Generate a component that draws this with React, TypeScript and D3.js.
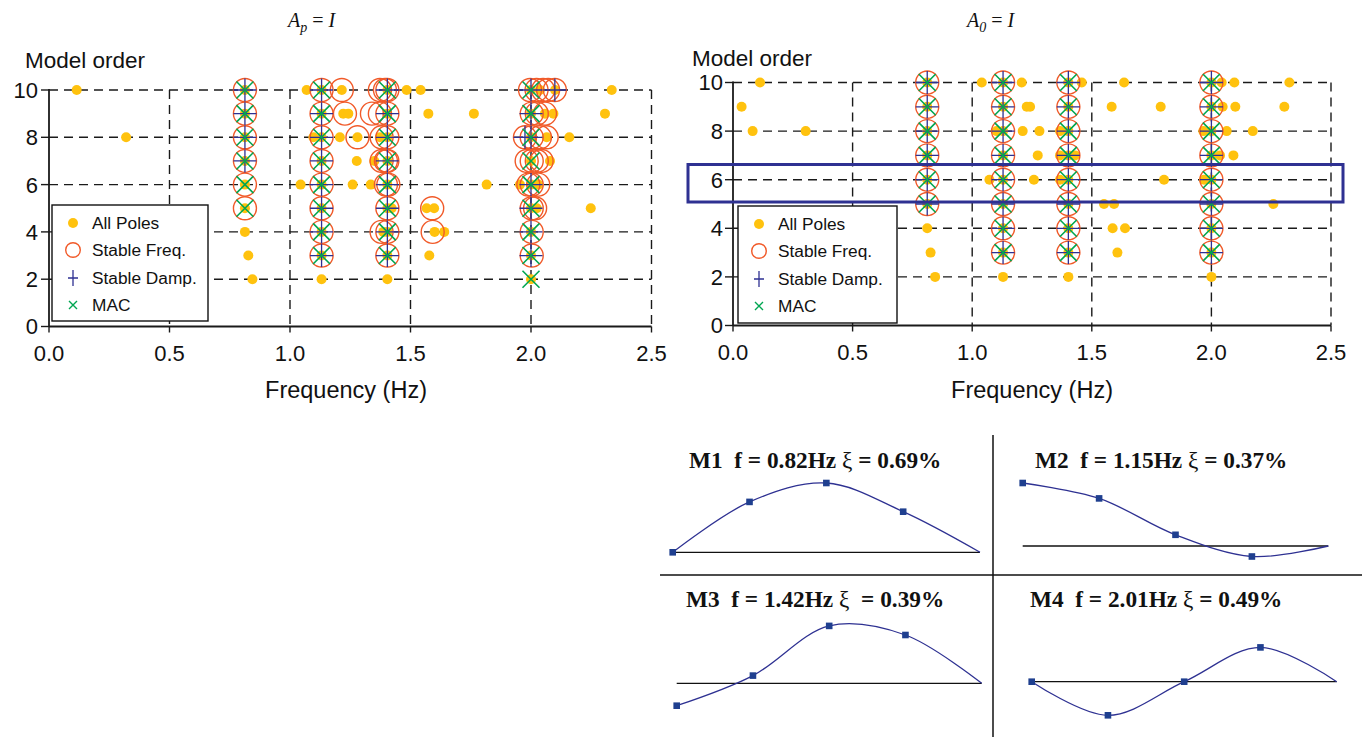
import React from "react";
import * as d3 from "d3";

type P = [number, number]; // [frequency Hz, model order]

const freqTicks = [0, 0.5, 1.0, 1.5, 2.0, 2.5];
const orderTicks = [0, 2, 4, 6, 8, 10];
const legendItems = ["All Poles", "Stable Freq.", "Stable Damp.", "MAC"];

// ---------- Left chart: A_p = I ----------
const allPolesAp: P[] = [
  [0.115, 10], [0.813, 10], [1.069, 10], [1.131, 10], [1.215, 10], [1.404, 10], [1.484, 10], [1.542, 10], [2.0, 10], [2.037, 10], [2.1, 10], [2.335, 10],
  [0.813, 9], [1.131, 9], [1.221, 9], [1.242, 9], [1.404, 9], [1.574, 9], [1.763, 9], [2.0, 9], [2.058, 9], [2.093, 9], [2.307, 9],
  [0.32, 8], [0.813, 8], [1.097, 8], [1.131, 8], [1.207, 8], [1.28, 8], [1.373, 8], [1.404, 8], [2.0, 8], [2.065, 8], [2.159, 8],
  [0.813, 7], [1.131, 7], [1.277, 7], [1.35, 7], [1.404, 7], [2.0, 7], [2.079, 7],
  [0.813, 6], [1.044, 6], [1.131, 6], [1.26, 6], [1.335, 6], [1.404, 6], [1.816, 6], [1.954, 6], [2.0, 6], [2.03, 6],
  [0.813, 5], [1.131, 5], [1.404, 5], [1.422, 5], [1.567, 5], [1.598, 5], [2.0, 5], [2.024, 5], [2.248, 5],
  [0.813, 4], [1.131, 4], [1.387, 4], [1.404, 4], [1.6, 4], [1.64, 4], [2.0, 4],
  [0.827, 3], [1.131, 3], [1.404, 3], [1.578, 3], [2.0, 3],
  [0.844, 2], [1.131, 2], [1.404, 2], [2.0, 2],
];
const stableFreqAp: P[] = [
  [0.813, 10], [1.131, 10], [1.215, 10], [1.373, 10], [1.394, 10], [1.404, 10], [1.996, 10], [2.023, 10], [2.05, 10], [2.071, 10], [2.099, 10],
  [0.813, 9], [1.131, 9], [1.228, 9], [1.34, 9], [1.373, 9], [1.404, 9], [2.003, 9], [2.024, 9], [2.058, 9],
  [0.813, 8], [1.131, 8], [1.28, 8], [1.38, 8], [1.404, 8], [1.975, 8], [2.003, 8], [2.037, 8], [2.065, 8],
  [0.813, 7], [1.131, 7], [1.38, 7], [1.398, 7], [1.404, 7], [1.982, 7], [2.003, 7], [2.024, 7], [2.044, 7],
  [0.813, 6], [1.131, 6], [1.398, 6], [1.408, 6], [1.989, 6], [2.003, 6], [2.03, 6],
  [0.813, 5], [1.131, 5], [1.404, 5], [1.59, 5], [2.003, 5], [2.017, 5],
  [1.131, 4], [1.38, 4], [1.404, 4], [1.592, 4], [2.003, 4],
  [1.131, 3], [1.404, 3], [2.003, 3],
];
const stableDampAp: P[] = [
  [0.813, 10], [1.131, 10], [1.404, 10], [2.0, 10], [2.099, 10],
  [0.813, 9], [1.131, 9], [1.404, 9], [2.0, 9],
  [0.813, 8], [1.131, 8], [1.404, 8], [1.975, 8], [2.0, 8],
  [0.813, 7], [1.131, 7], [1.404, 7],
  [1.131, 6], [1.404, 6], [2.0, 6],
  [1.131, 5], [1.404, 5], [2.0, 5],
  [1.131, 4], [1.404, 4], [2.0, 4],
  [1.131, 3], [1.404, 3], [2.0, 3],
];
const macAp: P[] = [
  [0.813, 10], [1.131, 10], [1.404, 10], [2.0, 10],
  [0.813, 9], [1.131, 9], [1.404, 9], [2.0, 9],
  [0.813, 8], [1.131, 8], [1.404, 8], [2.0, 8],
  [0.813, 7], [1.131, 7], [1.404, 7], [2.0, 7],
  [0.813, 6], [1.131, 6], [1.404, 6], [2.0, 6],
  [0.813, 5], [1.131, 5], [1.404, 5], [2.0, 5],
  [1.131, 4], [1.404, 4], [2.0, 4],
  [1.131, 3], [1.404, 3], [2.0, 3],
  [2.0, 2],
];

// ---------- Right chart: A_0 = I ----------
const allPolesA0: P[] = [
  [0.113, 10], [0.812, 10], [1.04, 10], [1.129, 10], [1.207, 10], [1.402, 10], [1.458, 10], [1.635, 10], [2.0, 10], [2.043, 10], [2.096, 10], [2.326, 10],
  [0.036, 9], [0.812, 9], [1.129, 9], [1.228, 9], [1.242, 9], [1.402, 9], [1.583, 9], [1.788, 9], [2.0, 9], [2.047, 9], [2.1, 9], [2.305, 9],
  [0.082, 8], [0.304, 8], [0.812, 8], [1.102, 8], [1.129, 8], [1.211, 8], [1.281, 8], [1.367, 8], [1.402, 8], [1.966, 8], [2.0, 8], [2.064, 8], [2.173, 8],
  [0.812, 7], [1.129, 7], [1.274, 7], [1.367, 7], [1.402, 7], [1.43, 7], [2.0, 7], [2.036, 7], [2.092, 7],
  [0.812, 6], [1.072, 6], [1.129, 6], [1.258, 6], [1.367, 6], [1.402, 6], [1.802, 6], [1.969, 6], [2.0, 6],
  [0.812, 5], [1.129, 5], [1.402, 5], [1.551, 5], [1.593, 5], [2.0, 5], [2.259, 5],
  [0.812, 4], [1.129, 4], [1.402, 4], [1.587, 4], [1.639, 4], [2.0, 4],
  [0.826, 3], [1.129, 3], [1.402, 3], [1.607, 3], [2.0, 3],
  [0.845, 2], [1.129, 2], [1.402, 2], [2.0, 2],
];
const stableA0: P[] = [
  [0.812, 10], [1.129, 10], [1.402, 10], [2.0, 10],
  [0.812, 9], [1.129, 9], [1.402, 9], [2.0, 9],
  [0.812, 8], [1.129, 8], [1.402, 8], [2.0, 8],
  [0.812, 7], [1.129, 7], [1.402, 7], [2.0, 7],
  [0.812, 6], [1.129, 6], [1.402, 6], [2.0, 6],
  [0.812, 5], [1.129, 5], [1.402, 5], [2.0, 5],
  [1.129, 4], [1.402, 4], [2.0, 4],
  [1.129, 3], [1.402, 3], [2.0, 3],
];

// ---------- Mode shapes ----------
const modeNames = ["M1", "M2", "M3", "M4"];
const modeFreqs = ["0.82Hz", "1.15Hz", "1.42Hz", "2.01Hz"];
const modeDamps = ["= 0.69%", "= 0.37%", " = 0.39%", "= 0.49%"];
const nodeIndex = [0, 1, 2, 3, 4];
const modeM1 = [0, 0.72, 0.99, 0.58, 0];
const modeM2 = [0.9, 0.68, 0.16, -0.15, 0];
const modeM3 = [-0.32, 0.11, 0.82, 0.69, 0];
const modeM4 = [0, -0.48, 0, 0.49, 0];
const modeShapes = [modeM1, modeM2, modeM3, modeM4];

const C = {
  dot: "#FFC20E",
  circ: "#F15A29",
  plus: "#2E3192",
  mac: "#00A651",
  grid: "#1a1a1a",
};
const SANS = "'Liberation Sans', Arial, Helvetica, sans-serif";
const SERIF = "'Liberation Serif', 'Times New Roman', Times, serif";

type ChartProps = {
  xr: [number, number];
  yr: [number, number];
  all: P[];
  sf: P[];
  sd: P[];
  mac: P[];
  legend: { x: number; y: number; w: number; h: number };
  titleLabelX: number;
  titleLabelY: number;
  freqLabelX: number;
  tickLabelGap: number;
};

function Chart(p: ChartProps) {
  const x = d3.scaleLinear().domain([0, 2.5]).range(p.xr);
  const y = d3.scaleLinear().domain([0, 10]).range(p.yr);
  const x0 = x(0), x1 = x(2.5), yb = y(0), yt = y(10);
  const dash = "9,6";
  const L = p.legend;
  const rows = [L.y + 18, L.y + 45, L.y + 73, L.y + 100];
  const mx = L.x + 21;
  return (
    <g>
      {orderTicks.filter((t) => t > 0).map((t) => (
        <g key={"h" + t}>
          <line x1={x0} x2={x1} y1={y(t)} y2={y(t)} stroke={C.grid} strokeWidth={1.4} strokeDasharray={dash} />
          <line x1={x0 - 8} x2={x0} y1={y(t)} y2={y(t)} stroke={C.grid} strokeWidth={1.4} />
        </g>
      ))}
      <line x1={x0 - 8} x2={x0} y1={yb} y2={yb} stroke={C.grid} strokeWidth={1.4} />
      {freqTicks.filter((t) => t > 0).map((t) => (
        <g key={"v" + t}>
          <line x1={x(t)} x2={x(t)} y1={yt} y2={yb} stroke={C.grid} strokeWidth={1.4} strokeDasharray={dash} />
          <line x1={x(t)} x2={x(t)} y1={yb} y2={yb + 6} stroke={C.grid} strokeWidth={1.4} />
        </g>
      ))}
      <line x1={x0} x2={x0} y1={yb} y2={yb + 6} stroke={C.grid} strokeWidth={1.4} />
      <line x1={x0} x2={x0} y1={yt - 1} y2={yb} stroke={C.grid} strokeWidth={1.8} />
      <line x1={x0} x2={x1} y1={yb} y2={yb} stroke={C.grid} strokeWidth={1.8} />
      {orderTicks.map((t) => (
        <text key={"yl" + t} x={x0 - p.tickLabelGap} y={y(t)} dy="0.36em" textAnchor="end" fontFamily={SANS} fontSize={22} fill="#111">
          {t}
        </text>
      ))}
      {freqTicks.map((t) => (
        <text key={"xl" + t} x={x(t)} y={yb + 27} dy="0.36em" textAnchor="middle" fontFamily={SANS} fontSize={22} fill="#111">
          {d3.format(".1f")(t)}
        </text>
      ))}
      <text x={p.titleLabelX} y={p.titleLabelY} dy="0.36em" fontFamily={SANS} fontSize={22.5} fill="#111">Model order</text>
      <text x={p.freqLabelX} y={390} dy="0.36em" textAnchor="middle" fontFamily={SANS} fontSize={23.5} fill="#111">Frequency (Hz)</text>

      {p.all.map((d, i) => (
        <circle key={"a" + i} cx={x(d[0])} cy={y(d[1])} r={5} fill={C.dot} />
      ))}
      {p.sf.map((d, i) => (
        <circle key={"s" + i} cx={x(d[0])} cy={y(d[1])} r={11.5} fill="none" stroke={C.circ} strokeWidth={1.4} />
      ))}
      {p.sd.map((d, i) => {
        const cx = x(d[0]), cy = y(d[1]);
        return (
          <path key={"d" + i} d={`M${cx - 11.5},${cy}H${cx + 11.5}M${cx},${cy - 11.5}V${cy + 11.5}`} stroke={C.plus} strokeWidth={1.3} fill="none" />
        );
      })}
      {p.mac.map((d, i) => {
        const cx = x(d[0]), cy = y(d[1]), s = 8.5;
        return (
          <path key={"m" + i} d={`M${cx - s},${cy - s}L${cx + s},${cy + s}M${cx - s},${cy + s}L${cx + s},${cy - s}`} stroke={C.mac} strokeWidth={1.6} fill="none" />
        );
      })}

      <rect x={L.x} y={L.y} width={L.w} height={L.h} fill="#fff" stroke="#111" strokeWidth={1.4} />
      <circle cx={mx} cy={rows[0]} r={5} fill={C.dot} />
      <circle cx={mx} cy={rows[1]} r={7.3} fill="none" stroke={C.circ} strokeWidth={1.4} />
      <path d={`M${mx - 5},${rows[2]}H${mx + 5}M${mx},${rows[2] - 8}V${rows[2] + 8}`} stroke={C.plus} strokeWidth={1.3} />
      <path d={`M${mx - 4},${rows[3] - 4}L${mx + 4},${rows[3] + 4}M${mx - 4},${rows[3] + 4}L${mx + 4},${rows[3] - 4}`} stroke={C.mac} strokeWidth={1.4} />
      {legendItems.map((t, i) => (
        <text key={t} x={L.x + 40} y={rows[i]} dy="0.36em" fontFamily={SANS} fontSize={17.3} fill="#111">{t}</text>
      ))}
    </g>
  );
}

type ModeLayout = { tx: number; ty: number; xa: number; xb: number; zero: number };
const modeLayout: ModeLayout[] = [
  { tx: 689, ty: 468, xa: 672.7, xb: 980, zero: 552.3 },
  { tx: 1035, ty: 468, xa: 1022.7, xb: 1328.3, zero: 546 },
  { tx: 686, ty: 607, xa: 676.7, xb: 981.7, zero: 683.3 },
  { tx: 1030, ty: 607, xa: 1031.7, xb: 1336.7, zero: 681.7 },
];

function Mode({ i }: { i: number }) {
  const lay = modeLayout[i];
  const vals = modeShapes[i];
  const x = d3.scaleLinear().domain([0, 4]).range([lay.xa, lay.xb]);
  const y = d3.scaleLinear().domain([-1, 1]).range([lay.zero + 70, lay.zero - 70]);
  const line = d3
    .line<number>()
    .x((_, k) => x(nodeIndex[k]))
    .y((v) => y(v))
    .curve(d3.curveCatmullRom.alpha(0.5));
  return (
    <g>
      <text x={lay.tx} y={lay.ty} fontFamily={SERIF} fontWeight="bold" fontSize={23.3} fill="#111" style={{ whiteSpace: "pre" }}>
        {modeNames[i] + "  f = " + modeFreqs[i] + " "}
        <tspan fontWeight="normal">ξ</tspan>
        {" " + modeDamps[i]}
      </text>
      <line x1={lay.xa} x2={lay.xb} y1={y(0)} y2={y(0)} stroke="#111" strokeWidth={1.3} />
      <path d={line(vals) || ""} fill="none" stroke="#2E3192" strokeWidth={1.3} />
      {vals.slice(0, 4).map((v, k) => (
        <rect key={k} x={x(nodeIndex[k]) - 3.3} y={y(v) - 3.3} width={6.6} height={6.6} fill="#1F3F8F" />
      ))}
    </g>
  );
}

export default function App() {
  return (
    <svg width={1365} height={737} style={{ position: "absolute", left: 0, top: 0, background: "#fff" }}>
      <rect x={0} y={0} width={1365} height={737} fill="#fff" />
      <text x={288} y={27} fontFamily={SERIF} fontSize={20} fill="#111">
        <tspan fontStyle="italic">A</tspan>
        <tspan fontStyle="italic" fontSize={14} dy={5}>p</tspan>
        <tspan dy={-5}> = </tspan>
        <tspan fontStyle="italic">I</tspan>
      </text>
      <text x={967} y={27} fontFamily={SERIF} fontSize={20} fill="#111">
        <tspan fontStyle="italic">A</tspan>
        <tspan fontStyle="italic" fontSize={14} dy={5}>0</tspan>
        <tspan dy={-5}> = </tspan>
        <tspan fontStyle="italic">I</tspan>
      </text>

      <Chart
        xr={[49, 651.5]}
        yr={[326.5, 90]}
        all={allPolesAp}
        sf={stableFreqAp}
        sd={stableDampAp}
        mac={macAp}
        legend={{ x: 52, y: 205, w: 156, h: 116 }}
        titleLabelX={25}
        titleLabelY={60}
        freqLabelX={346}
        tickLabelGap={11}
      />
      <Chart
        xr={[733, 1331]}
        yr={[325.5, 82.5]}
        all={allPolesA0}
        sf={stableA0}
        sd={stableA0}
        mac={stableA0}
        legend={{ x: 738, y: 206, w: 159, h: 117 }}
        titleLabelX={692}
        titleLabelY={58}
        freqLabelX={1032}
        tickLabelGap={10}
      />
      <rect x={688} y={164.5} width={655} height={37.5} fill="none" stroke="#2E3192" strokeWidth={3} />

      <line x1={660} x2={1362} y1={575} y2={575} stroke="#111" strokeWidth={1.5} />
      <line x1={993} x2={993} y1={435} y2={737} stroke="#111" strokeWidth={1.5} />
      {modeNames.map((_, i) => (
        <Mode key={i} i={i} />
      ))}
    </svg>
  );
}
